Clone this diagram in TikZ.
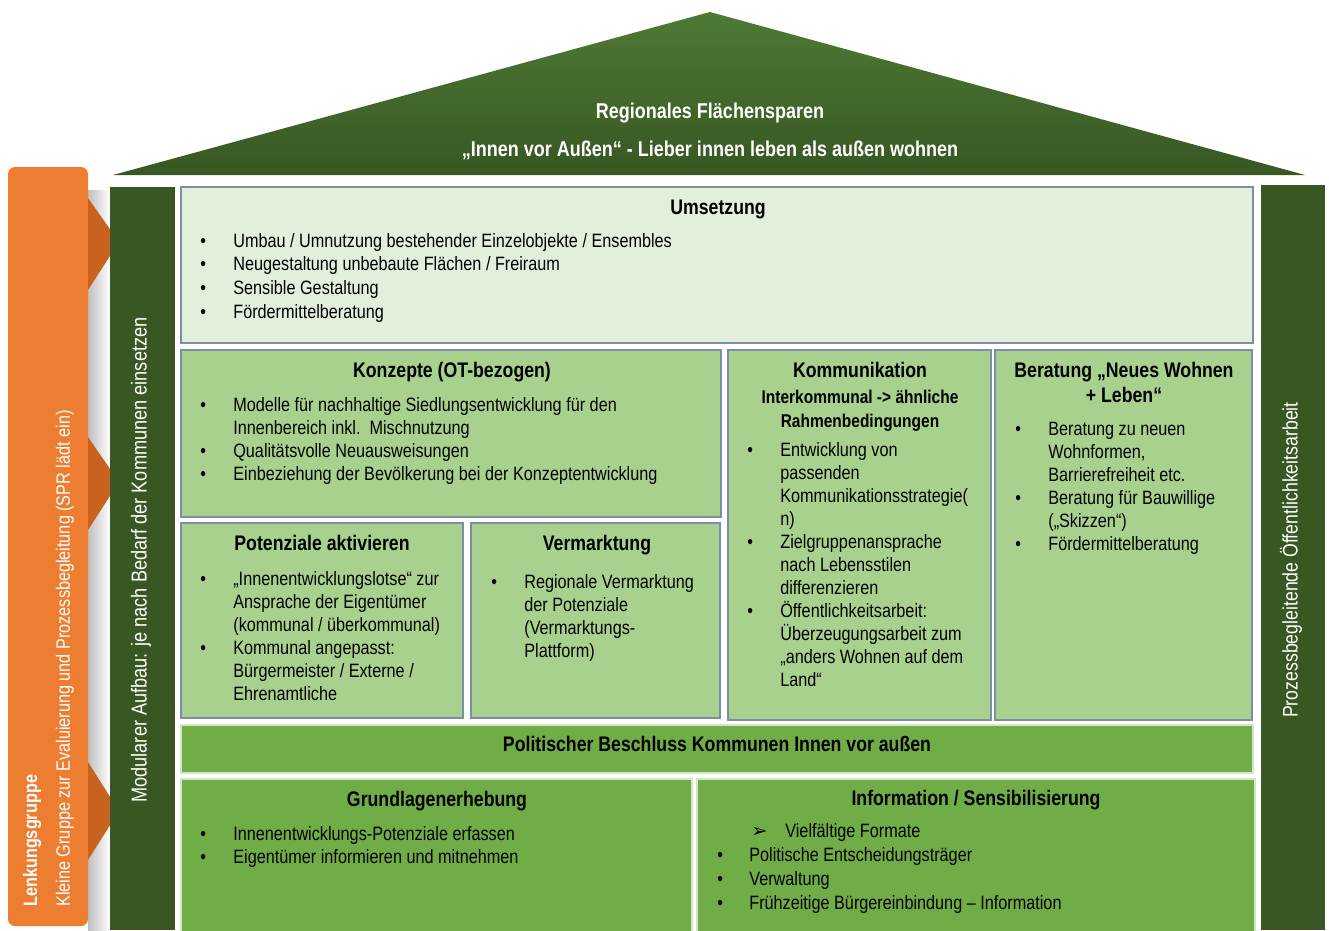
\documentclass[tikz,border=0pt]{standalone}
\usepackage{fontspec}
\setmainfont{Liberation Sans}[FakeStretch=0.84]
\newfontfamily\symfont{DejaVu Sans}
\usetikzlibrary{fit}

\definecolor{dunkelgruen}{HTML}{385723}
\definecolor{dachoben}{HTML}{4E7A35}
\definecolor{hellgruen}{HTML}{E2EFDA}
\definecolor{mittelgruen}{HTML}{A9D18E}
\definecolor{sattgruen}{HTML}{70AD47}
\definecolor{lenkorange}{HTML}{ED7D31}
\definecolor{pfeilorange}{HTML}{C8621E}
\definecolor{rahmen}{HTML}{7C8DA8}

\tikzset{
  box/.style={draw=rahmen, line width=1pt, inner sep=0pt},
  hellbox/.style={box, fill=hellgruen},
  mittelbox/.style={box, fill=mittelgruen},
  sattbox/.style={draw=white!70!sattgruen, line width=1pt, inner sep=0pt, fill=sattgruen},
  balken/.style={fill=dunkelgruen, inner sep=0pt},
  titel/.style={font=\fontsize{12}{14}\selectfont\bfseries, anchor=base, inner sep=0pt},
  liste/.style={font=\fontsize{11}{#1}\selectfont, anchor=base west, inner sep=0pt},
  liste/.default=13.2,
  weiss/.style={text=white, inner sep=0pt},
}
\newcommand{\pkt}{\textbullet}

\begin{document}
\begin{tikzpicture}[x=0.02cm, y=-0.02cm]
    \useasboundingbox (0,0) rectangle (1329,930);

    % Dach
    \shade[top color=dachoben, bottom color=dunkelgruen] (710,12) -- (1305,175) -- (113,175) -- cycle;
    \node[weiss, anchor=base, font=\fontsize{12.2}{14}\selectfont\bfseries] (dach1) at (710,118) {Regionales Flächensparen};
    \node[weiss, anchor=base, font=\fontsize{12.2}{14}\selectfont\bfseries] (dach2) at (710,156) {„Innen vor Außen“ - Lieber innen leben als außen wohnen};

    % Lenkungsgruppe
    \shade[left color=black!25, right color=white] (88,190) rectangle (110,930);
    \node[fill=lenkorange, rounded corners=4pt, inner sep=0pt, fit={(8,167) (88,926)}] (lenkung) {};
    \foreach \o/\m/\u in {198/242/290, 437/482/530, 762/811/860}
        \fill[pfeilorange] (88,\o) -- (119,\m) -- (88,\u) -- cycle;
    \node[weiss, rotate=90, anchor=base west, font=\fontsize{11}{13}\selectfont\bfseries] (lenktitel) at (37,907) {Lenkungsgruppe};
    \node[weiss, rotate=90, anchor=base west, font=\fontsize{11}{13}\selectfont] (lenktext) at (70,907) {Kleine Gruppe zur Evaluierung und Prozessbegleitung (SPR lädt ein)};

    % Saeulen
    \node[balken, fit={(110,187) (175,930)}] (modular) {};
    \node[balken, fit={(1261,185) (1325,930)}] (oeffentlich) {};
    \node[weiss, rotate=90, font=\fontsize{12.3}{14}\selectfont] at (141,560) {Modularer Aufbau: je nach Bedarf der Kommunen einsetzen};
    \node[weiss, rotate=90, font=\fontsize{12}{14}\selectfont] at (1291,560) {Prozessbegleitende Öffentlichkeitsarbeit};

    % Umsetzung
    \node[hellbox, fit={(181,187) (1253,343)}] (umsetzung) {};
    \node[titel] at (718,214) {Umsetzung};
    \node[liste=13.6] at (200,247) {\begin{tabular}[t]{@{}p{0.66cm}@{}l@{}}
        \pkt & Umbau / Umnutzung bestehender Einzelobjekte / Ensembles\\
        \pkt & Neugestaltung unbebaute Flächen / Freiraum\\
        \pkt & Sensible Gestaltung\\
        \pkt & Fördermittelberatung
    \end{tabular}};

    % Konzepte
    \node[mittelbox, fit={(181,350) (721,517)}] (konzepte) {};
    \node[titel] at (452,377) {Konzepte (OT-bezogen)};
    \node[liste] at (200,411) {\begin{tabular}[t]{@{}p{0.66cm}@{}l@{}}
        \pkt & Modelle für nachhaltige Siedlungsentwicklung für den\\
             & Innenbereich inkl.\ \ Mischnutzung\\
        \pkt & Qualitätsvolle Neuausweisungen\\
        \pkt & Einbeziehung der Bevölkerung bei der Konzeptentwicklung
    \end{tabular}};

    % Potenziale
    \node[mittelbox, fit={(181,523) (463,718)}] (potenziale) {};
    \node[titel] at (322,550) {Potenziale aktivieren};
    \node[liste=13.1] at (200,585) {\begin{tabular}[t]{@{}p{0.66cm}@{}l@{}}
        \pkt & „Innenentwicklungslotse“ zur\\
             & Ansprache der Eigentümer\\
             & (kommunal / überkommunal)\\
        \pkt & Kommunal angepasst:\\
             & Bürgermeister / Externe /\\
             & Ehrenamtliche
    \end{tabular}};

    % Vermarktung
    \node[mittelbox, fit={(471,523) (720,718)}] (vermarktung) {};
    \node[titel] at (597,550) {Vermarktung};
    \node[liste=13.1] at (491,588) {\begin{tabular}[t]{@{}p{0.66cm}@{}l@{}}
        \pkt & Regionale Vermarktung\\
             & der Potenziale\\
             & (Vermarktungs-\\
             & Plattform)
    \end{tabular}};

    % Kommunikation
    \node[mittelbox, fit={(728,350) (991,720)}] (kommunikation) {};
    \node[titel] at (860,377) {Kommunikation};
    \node[titel, font=\fontsize{10.5}{13.1}\selectfont\bfseries, align=center] at (860,427) {Interkommunal -> ähnliche\\Rahmenbedingungen};
    \node[liste=13.1] at (747,456) {\begin{tabular}[t]{@{}p{0.66cm}@{}l@{}}
        \pkt & Entwicklung von\\
             & passenden\\
             & Kommunikationsstrategie(\\
             & n)\\
        \pkt & Zielgruppenansprache\\
             & nach Lebensstilen\\
             & differenzieren\\
        \pkt & Öffentlichkeitsarbeit:\\
             & Überzeugungsarbeit zum\\
             & „anders Wohnen auf dem\\
             & Land“
    \end{tabular}};

    % Beratung
    \node[mittelbox, fit={(995,350) (1252,720)}] (beratung) {};
    \node[titel, align=center] at (1124,402) {Beratung „Neues Wohnen\\+ Leben“};
    \node[liste] at (1015,435) {\begin{tabular}[t]{@{}p{0.66cm}@{}l@{}}
        \pkt & Beratung zu neuen\\
             & Wohnformen,\\
             & Barrierefreiheit etc.\\
        \pkt & Beratung für Bauwillige\\
             & („Skizzen“)\\
        \pkt & Fördermittelberatung
    \end{tabular}};

    % Politischer Beschluss
    \node[sattbox, fit={(181,725) (1253,773)}] (beschluss) {};
    \node[titel] at (717,751) {Politischer Beschluss Kommunen Innen vor außen};

    % Grundlagenerhebung
    \node[sattbox, fit={(181,779) (692,940)}] (grundlagen) {};
    \node[titel] at (437,806) {Grundlagenerhebung};
    \node[liste=13.6] at (200,840) {\begin{tabular}[t]{@{}p{0.66cm}@{}l@{}}
        \pkt & Innenentwicklungs-Potenziale erfassen\\
        \pkt & Eigentümer informieren und mitnehmen
    \end{tabular}};

    % Information
    \node[sattbox, fit={(697,779) (1255,940)}] (information) {};
    \node[titel] at (976,805) {Information / Sensibilisierung};
    \node[liste=13.8] at (717,837) {\begin{tabular}[t]{@{}p{0.64cm}@{}l@{}}
             & \hspace{0.04cm}\makebox[0.68cm][l]{\symfont ➢}Vielfältige Formate\\
        \pkt & Politische Entscheidungsträger\\
        \pkt & Verwaltung\\
        \pkt & Frühzeitige Bürgereinbindung – Information
    \end{tabular}};
\end{tikzpicture}
\end{document}
